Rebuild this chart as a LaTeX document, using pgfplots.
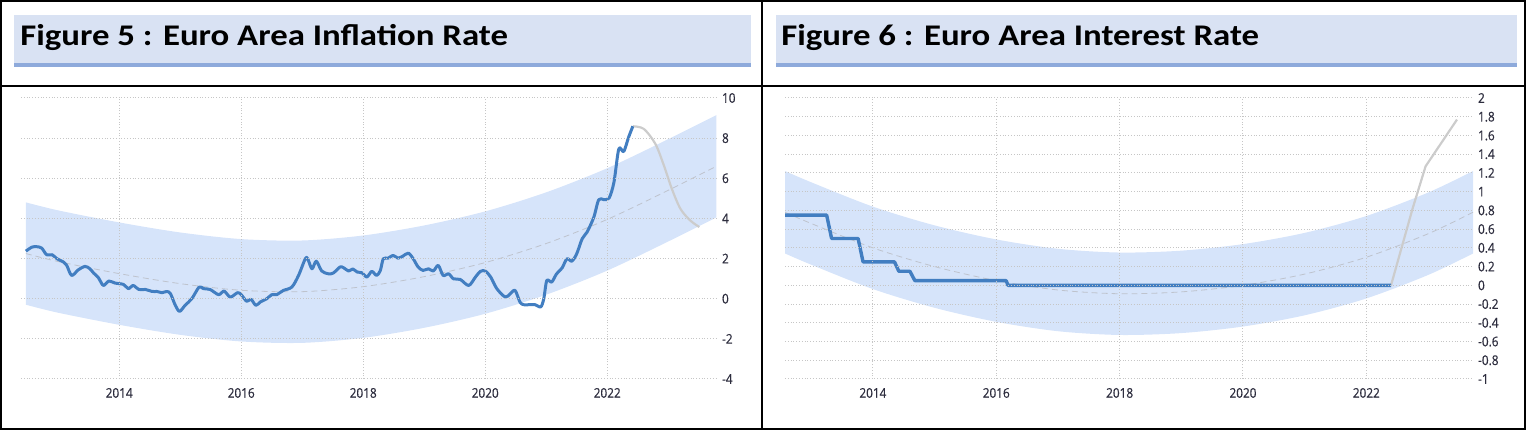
\documentclass[border=0pt]{standalone}
\usepackage{fontspec}
\usepackage{pgfplots}
\pgfplotsset{compat=1.18}
\usepgfplotslibrary{fillbetween}
\setmainfont{Open Sans}
\newfontfamily\titlefont[FakeStretch=1.16]{Carlito}
\newfontfamily\tickfont[FakeStretch=0.88, FakeBold=0.6]{Open Sans}
\definecolor{banner}{RGB}{217,226,243}
\definecolor{bannerline}{RGB}{142,170,219}
\definecolor{bandblue}{RGB}{214,228,250}
\definecolor{lineblue}{RGB}{66,126,193}
\definecolor{fcgray}{RGB}{204,204,204}
\definecolor{trendgray}{RGB}{190,195,205}
\definecolor{ticktext}{RGB}{45,45,62}

% x values are years after 2012 (2.5 = mid 2014)
\pgfplotsset{
  tepanel/.style={
    scale only axis, anchor=south west,
    width=348bp, height=140.5bp,
    axis line style={draw=none}, tick style={draw=none},
    grid=major, grid style={densely dotted, gray!45, line width=0.5bp},
    axis on top,
    yticklabel pos=right,
    ticklabel style={font=\tickfont\fontsize{6.7bp}{8bp}\selectfont, text=ticktext},
    yticklabel style={anchor=west, xshift=-1bp},
    xticklabel style={yshift=-1bp},
    xtick={2,4,6,8,10},
    xticklabels={2014,2016,2018,2020,2022},
  },
  band/.style={draw=none, smooth, forget plot},
  trend/.style={smooth, densely dashed, trendgray, line width=0.4bp},
  data/.style={lineblue, line width=1.5bp, line join=round},
  fcast/.style={fcgray, line width=1.1bp, smooth},
}

\begin{document}
\begin{tikzpicture}[x=0.5bp,y=0.5bp]

% title banners
\fill[banner] (14,366) rectangle (751,415);
\fill[bannerline] (14,363) rectangle (751,366.5);
\fill[banner] (776,366) rectangle (1517,415);
\fill[bannerline] (776,363) rectangle (1517,366.5);
\node[anchor=base west, inner sep=0] at (20,384.3)
  {\titlefont\bfseries\fontsize{15bp}{17bp}\selectfont Figure 5 : Euro Area Inflation Rate};
\node[anchor=base west, inner sep=0] at (781,384.3)
  {\titlefont\bfseries\fontsize{15bp}{17bp}\selectfont Figure 6 : Euro Area Interest Rate};

% Figure 5: inflation
\begin{axis}[tepanel, at={(10.5bp,25.5bp)},
  xmin=0.39, xmax=11.80, ymin=-4, ymax=10,
  ytick={-4,-2,0,2,4,6,8,10},
  yticklabels={-4,-2,0,2,4,6,8,10}]
\addplot[band, name path=infup] coordinates {
  (0.47,4.80) (1,4.40) (2,3.80) (3,3.30) (4,2.97) (5,2.90)
  (6,3.15) (7,3.65) (8,4.35) (9,5.30) (10,6.50) (11,7.95) (11.79,9.15)};
\addplot[band, name path=inflo] coordinates {
  (0.47,-0.30) (1,-0.70) (2,-1.30) (3,-1.80) (4,-2.13) (5,-2.20)
  (6,-1.95) (7,-1.45) (8,-0.75) (9,0.20) (10,1.40) (11,2.85) (11.79,4.05)};
\addplot[bandblue, forget plot] fill between[of=infup and inflo];
\addplot[trend] coordinates {
  (0.47,2.25) (1,1.85) (2,1.25) (3,0.75) (4,0.42) (5,0.35)
  (6,0.60) (7,1.10) (8,1.80) (9,2.75) (10,3.95) (11,5.40) (11.79,6.60)};
\addplot[fcast] coordinates {
  (10.42,8.59) (10.60,8.46) (10.79,7.71) (10.93,6.63) (11.06,5.47)
  (11.20,4.48) (11.36,3.90) (11.51,3.57)};
\addplot[data, smooth] coordinates {
  (0.47,2.37) (0.57,2.57) (0.65,2.59) (0.73,2.52) (0.81,2.19) (0.90,2.19)
  (0.98,1.99) (1.09,1.82) (1.14,1.66) (1.22,1.16) (1.33,1.44) (1.44,1.61)
  (1.52,1.49) (1.58,1.28) (1.66,1.04) (1.74,0.66) (1.83,0.88) (1.93,0.78)
  (2.07,0.71) (2.15,0.50) (2.23,0.66) (2.32,0.46) (2.43,0.46) (2.54,0.36)
  (2.62,0.36) (2.70,0.30) (2.78,0.36) (2.84,0.25) (2.92,-0.33) (2.99,-0.63)
  (3.08,-0.33) (3.19,0.00) (3.31,0.58) (3.38,0.50) (3.49,0.46) (3.63,0.20)
  (3.72,0.38) (3.82,0.08) (3.94,0.30) (4.00,0.20) (4.09,-0.13) (4.16,-0.03)
  (4.24,-0.33) (4.31,-0.17) (4.42,0.00) (4.50,0.20) (4.58,0.20) (4.69,0.41)
  (4.83,0.58) (4.94,1.16) (5.05,1.99) (5.09,1.99) (5.16,1.49) (5.23,1.87)
  (5.32,1.38) (5.43,1.24) (5.51,1.28) (5.62,1.58) (5.68,1.54) (5.76,1.38)
  (5.83,1.48) (5.90,1.33) (5.98,1.29) (6.06,1.08) (6.14,1.36) (6.22,1.16)
  (6.28,1.40) (6.33,1.99) (6.41,2.02) (6.49,2.16) (6.57,2.02) (6.65,2.12)
  (6.74,2.27) (6.82,1.99) (6.90,1.58) (6.98,1.41) (7.07,1.49) (7.15,1.38)
  (7.23,1.66) (7.31,1.16) (7.40,1.24) (7.48,0.99) (7.59,0.96) (7.73,0.66)
  (7.84,1.08) (7.92,1.36) (8.00,1.38) (8.09,1.08) (8.19,0.50) (8.33,0.08)
  (8.41,0.25) (8.49,0.41) (8.57,-0.17) (8.63,-0.30) (8.71,-0.30) (8.82,-0.30)
  (8.91,-0.41) (8.96,0.00) (9.01,0.91) (9.09,0.83) (9.17,1.24) (9.26,1.53)
  (9.34,1.99) (9.42,1.87) (9.50,2.24) (9.59,2.99) (9.67,3.32) (9.78,4.06)
  (9.86,4.93) (9.94,4.94) (10.03,5.01) (10.11,5.80) (10.19,7.46) (10.27,7.33)
  (10.35,8.04) (10.42,8.59)};
\end{axis}

% Figure 6: interest rate
\begin{axis}[tepanel, at={(392.5bp,25.5bp)}, width=344bp,
  xmin=0.575, xmax=11.73, ymin=-1, ymax=2,
  ytick={-1,-0.8,-0.6,-0.4,-0.2,0,0.2,0.4,0.6,0.8,1,1.2,1.4,1.6,1.8,2},
  yticklabels={-1,-0.8,-0.6,-0.4,-0.2,0,0.2,0.4,0.6,0.8,1,1.2,1.4,1.6,1.8,2}]
\addplot[band, name path=intup] coordinates {
  (0.575,1.22) (1,1.10) (2,0.84) (3,0.64) (4,0.49) (5,0.39) (6,0.35)
  (7,0.37) (8,0.44) (9,0.56) (10,0.74) (11,0.99) (11.73,1.22)};
\addplot[band, name path=intlo] coordinates {
  (0.575,0.34) (1,0.22) (2,-0.04) (3,-0.24) (4,-0.39) (5,-0.49) (6,-0.53)
  (7,-0.51) (8,-0.44) (9,-0.32) (10,-0.14) (11,0.11) (11.73,0.34)};
\addplot[bandblue, forget plot] fill between[of=intup and intlo];
\addplot[trend] coordinates {
  (0.575,0.78) (1,0.66) (2,0.40) (3,0.20) (4,0.05) (5,-0.05) (6,-0.09)
  (7,-0.07) (8,0.00) (9,0.12) (10,0.30) (11,0.55) (11.73,0.78)};
\addplot[fcgray, line width=1.1bp, line join=round] coordinates {
  (10.40,0) (10.75,0.82) (10.96,1.27) (11.47,1.77)};
\addplot[data, line width=1.7bp] coordinates {
  (0.575,0.75) (1.25,0.75) (1.33,0.50) (1.76,0.50) (1.84,0.25) (2.35,0.25)
  (2.42,0.15) (2.60,0.15) (2.68,0.05) (4.16,0.05) (4.19,0) (10.40,0)};
\end{axis}

% table rules
\draw[black, line width=0.9bp] (1,1) rectangle (1525,429);
\draw[black, line width=0.9bp] (762,0) -- (762,430);
\draw[black, line width=0.9bp] (0,344) -- (1526,344);

\pgfresetboundingbox
\useasboundingbox (0,0) rectangle (1526,430);
\end{tikzpicture}
\end{document}
